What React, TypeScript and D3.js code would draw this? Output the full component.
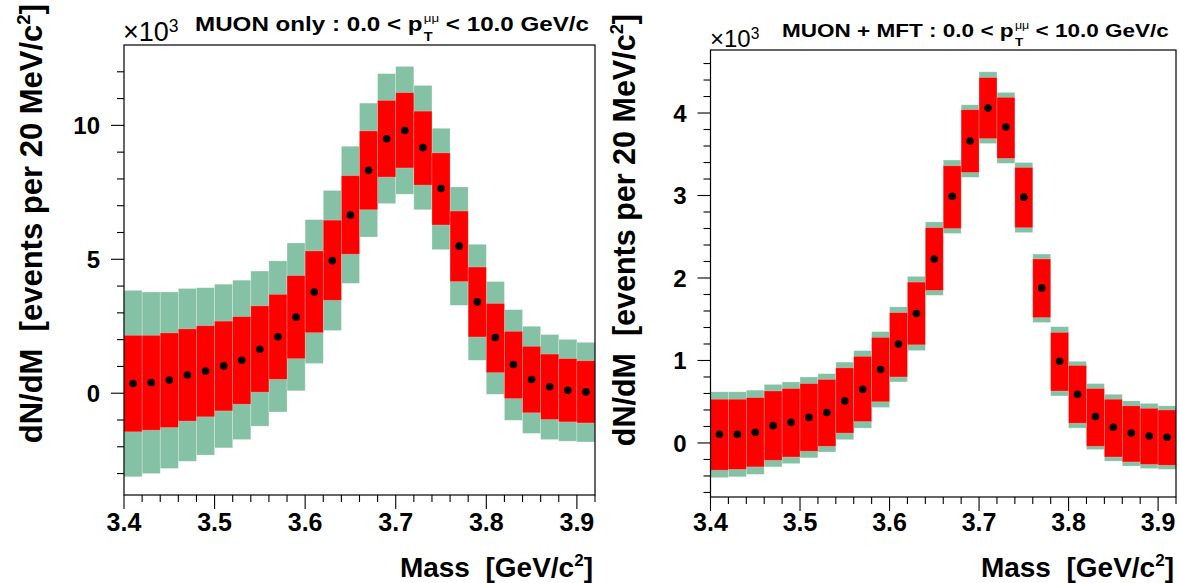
import React, { useEffect, useRef } from 'react';
import * as d3 from 'd3';

// ---------------- DATA ----------------
// bin centres (GeV/c^2), 20 MeV bins
const massBins = [3.41, 3.43, 3.45, 3.47, 3.49, 3.51, 3.53, 3.55, 3.57, 3.59, 3.61, 3.63, 3.65,
  3.67, 3.69, 3.71, 3.73, 3.75, 3.77, 3.79, 3.81, 3.83, 3.85, 3.87, 3.89, 3.91];
const binWidth = 0.02;

// MUON only (x 10^3)
const muonValue = [0.36, 0.40, 0.49, 0.68, 0.83, 1.02, 1.23, 1.64, 2.11, 2.84, 3.78, 4.95, 6.65,
  8.32, 9.50, 9.81, 9.17, 7.64, 5.49, 3.41, 2.08, 1.07, 0.51, 0.24, 0.11, 0.05];
const muonInnerLow = [-1.44, -1.38, -1.28, -1.04, -0.88, -0.66, -0.41, 0.04, 0.52, 1.29, 2.26, 3.47, 5.19,
  6.85, 8.07, 8.41, 7.77, 6.28, 4.17, 2.10, 0.77, -0.20, -0.73, -0.98, -1.07, -1.11];
const muonInnerHigh = [2.16, 2.16, 2.25, 2.40, 2.52, 2.69, 2.86, 3.26, 3.69, 4.39, 5.31, 6.46, 8.12,
  9.79, 10.93, 11.22, 10.53, 8.97, 6.80, 4.71, 3.35, 2.31, 1.75, 1.46, 1.29, 1.21];
const muonOuterLow = [-3.12, -3.00, -2.81, -2.54, -2.31, -2.04, -1.73, -1.23, -0.70, 0.09, 1.11, 2.34, 4.10,
  5.83, 7.08, 7.43, 6.85, 5.36, 3.28, 1.23, -0.04, -1.01, -1.50, -1.73, -1.79, -1.82];
const muonOuterHigh = [3.84, 3.78, 3.78, 3.91, 3.94, 4.07, 4.22, 4.56, 4.94, 5.61, 6.48, 7.57, 9.22,
  10.83, 11.93, 12.20, 11.49, 9.89, 7.70, 5.56, 4.17, 3.12, 2.50, 2.19, 2.01, 1.90];

// MUON + MFT (x 10^3)
const mftValue = [0.105, 0.105, 0.13, 0.21, 0.25, 0.31, 0.37, 0.51, 0.65, 0.89, 1.20, 1.57, 2.23,
  2.99, 3.66, 4.06, 3.83, 2.98, 1.88, 0.99, 0.59, 0.32, 0.19, 0.12, 0.085, 0.07];
const mftInnerLow = [-0.33, -0.32, -0.29, -0.21, -0.17, -0.10, -0.04, 0.12, 0.26, 0.50, 0.80, 1.19, 1.85,
  2.60, 3.28, 3.69, 3.45, 2.61, 1.52, 0.63, 0.24, -0.04, -0.17, -0.23, -0.26, -0.27];
const mftInnerHigh = [0.53, 0.53, 0.55, 0.63, 0.66, 0.72, 0.77, 0.91, 1.05, 1.28, 1.58, 1.95, 2.61,
  3.36, 4.04, 4.43, 4.19, 3.34, 2.23, 1.34, 0.94, 0.66, 0.53, 0.45, 0.42, 0.40];
const mftOuterLow = [-0.42, -0.41, -0.38, -0.29, -0.25, -0.18, -0.11, 0.04, 0.18, 0.43, 0.74, 1.12, 1.79,
  2.54, 3.22, 3.63, 3.39, 2.55, 1.46, 0.57, 0.18, -0.08, -0.22, -0.28, -0.31, -0.32];
const mftOuterHigh = [0.62, 0.62, 0.64, 0.71, 0.74, 0.80, 0.84, 0.98, 1.12, 1.35, 1.65, 2.02, 2.68,
  3.43, 4.10, 4.50, 4.25, 3.40, 2.29, 1.41, 0.99, 0.72, 0.59, 0.51, 0.48, 0.45];

// ticks
const xMajorTicks = [3.4, 3.5, 3.6, 3.7, 3.8, 3.9];
const xTickLabels = ['3.4', '3.5', '3.6', '3.7', '3.8', '3.9'];
const xMinorTicks = [3.42, 3.44, 3.46, 3.48, 3.52, 3.54, 3.56, 3.58, 3.62, 3.64, 3.66, 3.68,
  3.72, 3.74, 3.76, 3.78, 3.82, 3.84, 3.86, 3.88, 3.92];
const muonYMajor = [0, 5, 10];
const muonYLabels = ['0', '5', '10'];
const muonYMinor = [-3, -2, -1, 1, 2, 3, 4, 6, 7, 8, 9, 11, 12];
const mftYMajor = [0, 1, 2, 3, 4];
const mftYLabels = ['0', '1', '2', '3', '4'];
const mftYMinor = [-0.6, -0.4, -0.2, 0.2, 0.4, 0.6, 0.8, 1.2, 1.4, 1.6, 1.8, 2.2, 2.4, 2.6, 2.8,
  3.2, 3.4, 3.6, 3.8, 4.2, 4.4, 4.6];

const muonTitle = ['MUON only : 0.0 < p', ' < 10.0 GeV/c'];
const mftTitle = ['MUON + MFT : 0.0 < p', ' < 10.0 GeV/c'];

const FONT = "'Liberation Sans', Arial, Helvetica, sans-serif";
const GREEN = '#85c1a4';
const RED = '#ff0000';

type Panel = {
  x0: number; x1: number; y0: number; y1: number;
  yDom: [number, number];
  value: number[]; inLo: number[]; inHi: number[]; outLo: number[]; outHi: number[];
  yMajor: number[]; yLabels: string[]; yMinor: number[];
  title: string[]; titleX: number; titleRight: number; titleBase: number; titleSize: number;
  expX: number; expBase: number; expSize: number;
  yTitleX: number; yTitleEnd: number; yTitleSize: number;
};

const panels: Panel[] = [
  {
    x0: 124, x1: 595, y0: 45, y1: 495, yDom: [-3.8, 13.0],
    value: muonValue, inLo: muonInnerLow, inHi: muonInnerHigh, outLo: muonOuterLow, outHi: muonOuterHigh,
    yMajor: muonYMajor, yLabels: muonYLabels, yMinor: muonYMinor,
    title: muonTitle, titleX: 195, titleRight: 589, titleBase: 31, titleSize: 20.5,
    expX: 123, expBase: 41, expSize: 27,
    yTitleX: 42, yTitleEnd: 4, yTitleSize: 31,
  },
  {
    x0: 710.5, x1: 1176, y0: 50, y1: 497, yDom: [-0.655, 4.764],
    value: mftValue, inLo: mftInnerLow, inHi: mftInnerHigh, outLo: mftOuterLow, outHi: mftOuterHigh,
    yMajor: mftYMajor, yLabels: mftYLabels, yMinor: mftYMinor,
    title: mftTitle, titleX: 782, titleRight: 1169, titleBase: 37, titleSize: 18.5,
    expX: 710, expBase: 47, expSize: 24,
    yTitleX: 635, yTitleEnd: 14, yTitleSize: 30.5,
  },
];

function drawPanel(svg: d3.Selection<SVGSVGElement, unknown, null, undefined>, p: Panel) {
  const x = d3.scaleLinear().domain([3.4, 3.92]).range([p.x0, p.x1]);
  const y = d3.scaleLinear().domain(p.yDom).range([p.y1, p.y0]);
  const g = svg.append('g');
  const idx = d3.range(massBins.length);

  // outer (green) boxes
  g.append('g').selectAll('rect').data(idx).join('rect')
    .attr('x', (i) => x(massBins[i] - binWidth / 2))
    .attr('width', (i) => x(massBins[i] + binWidth / 2) - x(massBins[i] - binWidth / 2))
    .attr('y', (i) => y(p.outHi[i]))
    .attr('height', (i) => y(p.outLo[i]) - y(p.outHi[i]))
    .attr('fill', GREEN)
    .attr('stroke', 'rgba(255,255,255,0.35)')
    .attr('stroke-width', 0.7);

  // inner (red) boxes
  g.append('g').selectAll('rect').data(idx).join('rect')
    .attr('x', (i) => x(massBins[i] - binWidth / 2))
    .attr('width', (i) => x(massBins[i] + binWidth / 2) - x(massBins[i] - binWidth / 2))
    .attr('y', (i) => y(p.inHi[i]))
    .attr('height', (i) => y(p.inLo[i]) - y(p.inHi[i]))
    .attr('fill', RED)
    .attr('stroke', 'rgba(255,255,255,0.3)')
    .attr('stroke-width', 0.7);

  // markers
  g.append('g').selectAll('circle').data(idx).join('circle')
    .attr('cx', (i) => x(massBins[i]))
    .attr('cy', (i) => y(p.value[i]))
    .attr('r', 3.8)
    .attr('fill', '#000');

  // frame
  g.append('rect')
    .attr('x', p.x0).attr('y', p.y0)
    .attr('width', p.x1 - p.x0).attr('height', p.y1 - p.y0)
    .attr('fill', 'none').attr('stroke', '#000').attr('stroke-width', 1.2);

  // x ticks (outside, below)
  const xt = g.append('g').attr('stroke', '#000').attr('stroke-width', 1.1);
  xMajorTicks.forEach((v) => {
    xt.append('line').attr('x1', x(v)).attr('x2', x(v)).attr('y1', p.y1).attr('y2', p.y1 + 14);
  });
  xMinorTicks.forEach((v) => {
    xt.append('line').attr('x1', x(v)).attr('x2', x(v)).attr('y1', p.y1).attr('y2', p.y1 + 7);
  });
  g.append('g').selectAll('text').data(xMajorTicks).join('text')
    .attr('x', (v) => x(v)).attr('y', 531)
    .attr('text-anchor', 'middle')
    .attr('font-family', FONT).attr('font-weight', 'bold').attr('font-size', 25)
    .text((_, i) => xTickLabels[i]);

  // y ticks (outside, left)
  const yt = g.append('g').attr('stroke', '#000').attr('stroke-width', 1.1);
  p.yMajor.forEach((v) => {
    yt.append('line').attr('x1', p.x0 - 13).attr('x2', p.x0).attr('y1', y(v)).attr('y2', y(v));
  });
  p.yMinor.forEach((v) => {
    yt.append('line').attr('x1', p.x0 - 7).attr('x2', p.x0).attr('y1', y(v)).attr('y2', y(v));
  });
  g.append('g').selectAll('text').data(p.yMajor).join('text')
    .attr('x', p.x0 - 24).attr('y', (v) => y(v))
    .attr('dy', '0.36em')
    .attr('text-anchor', 'end')
    .attr('font-family', FONT).attr('font-weight', 'bold').attr('font-size', 24)
    .text((_, i) => p.yLabels[i]);

  // x axis title
  const xTitle = g.append('text')
    .attr('x', p.x1 - 2).attr('y', 577)
    .attr('text-anchor', 'end')
    .attr('font-family', FONT).attr('font-weight', 'bold').attr('font-size', 28)
    .style('white-space', 'pre');
  xTitle.append('tspan').text('Mass  [GeV/c');
  xTitle.append('tspan').attr('font-size', 17).attr('dy', -11).text('2');
  xTitle.append('tspan').attr('dy', 11).text(']');

  // y axis title
  const ys = p.yTitleSize;
  const yTitle = g.append('text')
    .attr('transform', `translate(${p.yTitleX},${p.yTitleEnd}) rotate(-90)`)
    .attr('text-anchor', 'end')
    .attr('font-family', FONT).attr('font-weight', 'bold').attr('font-size', ys)
    .style('white-space', 'pre');
  yTitle.append('tspan').text('dN/dM  [events per 20 MeV/c');
  yTitle.append('tspan').attr('font-size', ys * 0.6).attr('dy', -ys * 0.4).text('2');
  yTitle.append('tspan').attr('dy', ys * 0.4).text(']');

  // exponent label x10^3
  const ex = g.append('text')
    .attr('x', p.expX).attr('y', p.expBase)
    .attr('font-family', FONT).attr('font-size', p.expSize);
  ex.append('tspan').text('\u00d710');
  ex.append('tspan').attr('font-size', p.expSize * 0.65).attr('dy', -p.expSize * 0.33).text('3');

  // title with p_T^{mumu}
  const tg = g.append('g');
  const fs = p.titleSize;
  const a = tg.append('text').attr('x', 0).attr('y', 0)
    .attr('font-family', FONT).attr('font-weight', 'bold').attr('font-size', fs)
    .style('white-space', 'pre').text(p.title[0]);
  const wa = (a.node() as SVGTextElement).getComputedTextLength();
  const sub = tg.append('text').attr('x', wa + 1).attr('y', fs * 0.5)
    .attr('font-family', FONT).attr('font-weight', 'bold').attr('font-size', fs * 0.6).text('T');
  const sup = tg.append('text').attr('x', wa + 1).attr('y', -fs * 0.42)
    .attr('font-family', FONT).attr('font-size', fs * 0.55).text('\u03bc\u03bc');
  const ws = Math.max(
    (sub.node() as SVGTextElement).getComputedTextLength(),
    (sup.node() as SVGTextElement).getComputedTextLength(),
  );
  const b = tg.append('text').attr('x', wa + ws + 1).attr('y', 0)
    .attr('font-family', FONT).attr('font-weight', 'bold').attr('font-size', fs)
    .style('white-space', 'pre').text(p.title[1]);
  const wb = (b.node() as SVGTextElement).getComputedTextLength();
  const total = wa + ws + 1 + wb;
  const sx = (p.titleRight - p.titleX) / total;
  tg.attr('transform', `translate(${p.titleX},${p.titleBase}) scale(${sx},1)`);
}

export default function App() {
  const ref = useRef<SVGSVGElement>(null);
  useEffect(() => {
    if (!ref.current) return;
    const svg = d3.select(ref.current);
    svg.selectAll('*').remove();
    panels.forEach((p) => drawPanel(svg, p));
  }, []);
  return (
    <svg
      ref={ref}
      width={1180}
      height={583}
      style={{ position: 'absolute', left: 0, top: 0, background: '#fff' }}
    />
  );
}
